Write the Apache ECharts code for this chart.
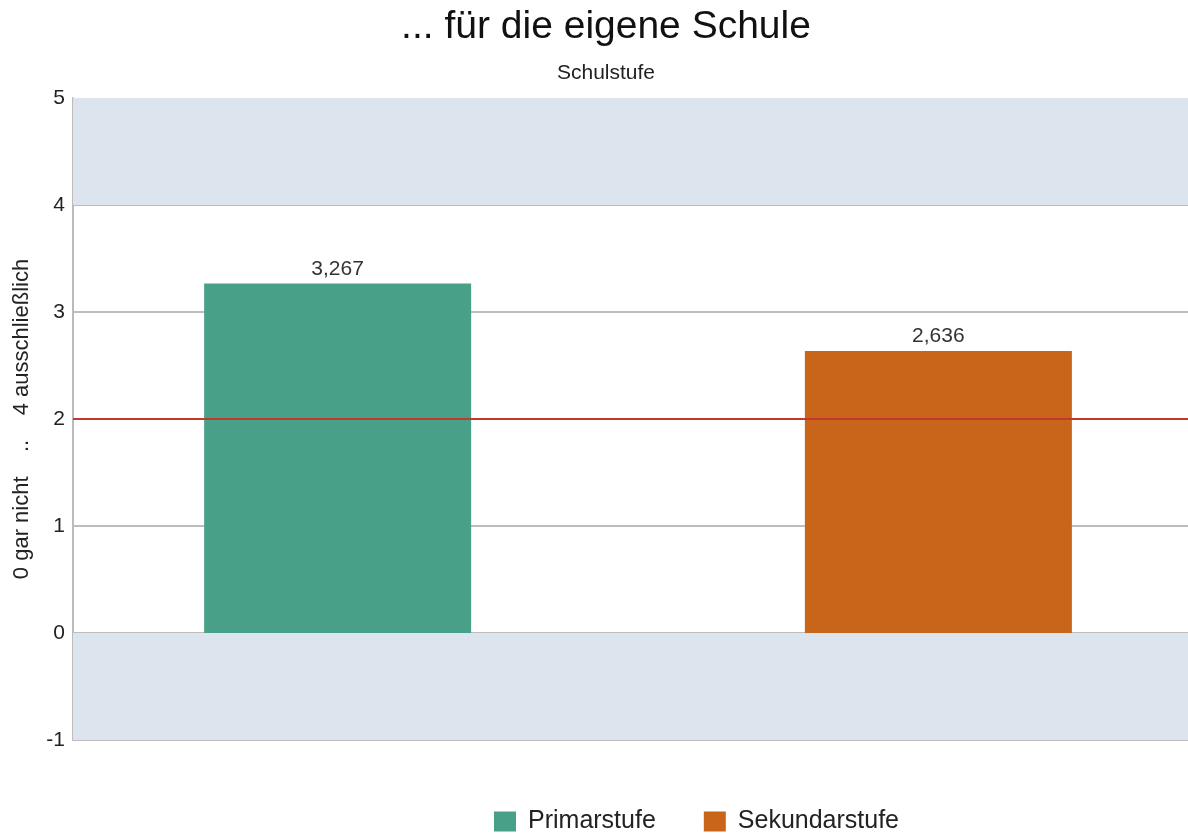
<!DOCTYPE html>
<html>
<head>
<meta charset="utf-8">
<script src="https://cdn.jsdelivr.net/npm/echarts@6/dist/echarts.min.js"></script>
<style>
html,body{margin:0;padding:0;background:#fff;}
#chart{width:1188px;height:836px;}
</style>
</head>
<body>
<div id="chart"></div>
<script>
const titleText = '... für die eigene Schule';
const subtitleText = 'Schulstufe';
const yAxisName = '0 gar nicht    ..    4 ausschließlich';
const categories = ['Schulstufe'];
const seriesNames = ['Primarstufe', 'Sekundarstufe'];
const primarValues = [3.267];
const sekundarValues = [2.636];
const referenceValue = 2;
const bandsY = [[4, 5], [-1, 0]];
const yTicks = { min: -1, max: 5, interval: 1 };

const colors = ['#48a088', '#c8651a'];
const fmt = v => String(v.value !== undefined ? v.value : v).replace('.', ',');
const FONT = 'Liberation Sans, Arial, sans-serif';
const gridColors = ['#bdbdbd', '#bdbdbd', '#bdbdbd', '#bdbdbd', '#bdbdbd', '#bdbdbd', 'rgba(0,0,0,0)'];

const chart = echarts.init(document.getElementById('chart'));
chart.setOption({
  animation: false,
  textStyle: { fontFamily: FONT },
  title: {
    text: titleText,
    subtext: subtitleText,
    left: 606,
    top: 6,
    textAlign: 'center',
    padding: [2, 0, 0, 0],
    itemGap: 16,
    textStyle: { fontSize: 39, fontWeight: 'normal', color: '#111', fontFamily: FONT },
    subtextStyle: { fontSize: 21, color: '#222', fontFamily: FONT }
  },
  legend: {
    bottom: -3,
    left: 489,
    itemWidth: 22,
    itemHeight: 20,
    itemGap: 48,
    icon: 'rect',
    textStyle: { fontSize: 25, color: '#222', padding: [0, 0, 0, 7] },
    data: seriesNames
  },
  grid: [
    { left: 73, right: 0, top: 98, bottom: 96, containLabel: false },
    { left: 88, right: 0, top: 98, bottom: 96, containLabel: false }
  ],
  xAxis: [
    { type: 'category', gridIndex: 0, data: categories, axisLine: { show: false }, axisTick: { show: false }, axisLabel: { show: false } },
    { type: 'category', gridIndex: 1, data: categories, axisLine: { show: false }, axisTick: { show: false }, axisLabel: { show: false } }
  ],
  yAxis: [
    {
      type: 'value',
      gridIndex: 0,
      min: yTicks.min,
      max: yTicks.max,
      interval: yTicks.interval,
      name: yAxisName,
      nameLocation: 'middle',
      nameGap: 40,
      nameTextStyle: { fontSize: 22, color: '#222' },
      axisLine: { show: true, lineStyle: { color: '#bbbbbb', width: 2 } },
      axisTick: { show: false },
      axisLabel: { fontSize: 21, color: '#222', margin: 8 },
      splitLine: { show: true, lineStyle: { color: gridColors, width: 2 } }
    },
    {
      type: 'value',
      gridIndex: 1,
      min: yTicks.min,
      max: yTicks.max,
      interval: yTicks.interval,
      show: false,
      splitLine: { show: false }
    }
  ],
  series: [
    {
      name: 'Referenz',
      type: 'line',
      xAxisIndex: 0,
      yAxisIndex: 0,
      data: [],
      z: 1,
      markArea: {
        silent: true,
        itemStyle: { color: '#dce4ee' },
        data: bandsY.map(b => [{ yAxis: b[0] }, { yAxis: b[1] }])
      },
      markLine: {
        silent: true,
        symbol: 'none',
        label: { show: false },
        lineStyle: { color: '#c0392b', width: 2, type: 'solid' },
        data: [{ yAxis: referenceValue }]
      }
    },
    {
      name: seriesNames[0],
      type: 'bar',
      xAxisIndex: 1,
      yAxisIndex: 1,
      data: primarValues,
      barWidth: 267,
      barGap: '125%',
      itemStyle: { color: colors[0] },
      label: { show: true, position: 'top', fontSize: 21, color: '#333', formatter: fmt, distance: 4 },
      z: 3
    },
    {
      name: seriesNames[1],
      type: 'bar',
      xAxisIndex: 1,
      yAxisIndex: 1,
      data: sekundarValues,
      barWidth: 267,
      itemStyle: { color: colors[1] },
      label: { show: true, position: 'top', fontSize: 21, color: '#333', formatter: fmt, distance: 4 },
      z: 3
    }
  ]
});
</script>
</body>
</html>
